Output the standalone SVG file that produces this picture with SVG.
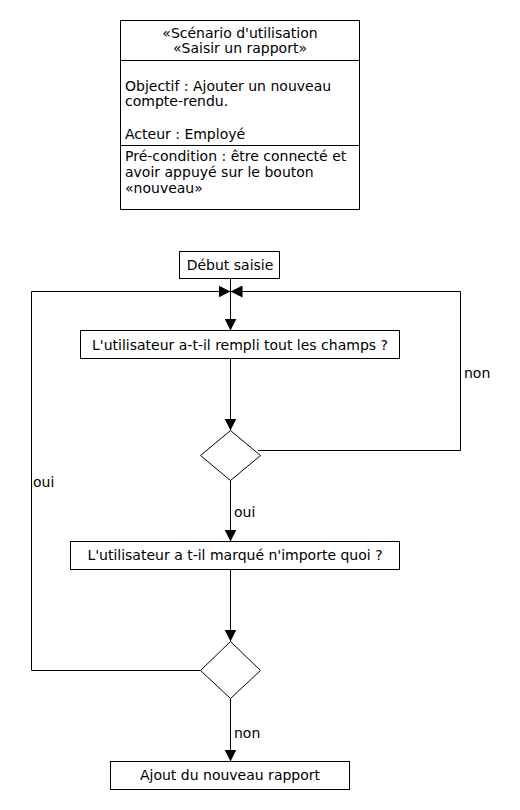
<svg xmlns="http://www.w3.org/2000/svg" width="520" height="810" viewBox="0 0 520 810">
<style>
  .box { fill: #fff; stroke: #000; stroke-width: 1; }
  .ln { fill: none; stroke: #000; stroke-width: 1; }
  text { font-family: "DejaVu Sans", sans-serif; font-size: 14px; fill: #000; }
  .c { text-anchor: middle; }
</style>
<defs>
  <marker id="arr" markerWidth="12" markerHeight="12" refX="12" refY="6" orient="auto" markerUnits="userSpaceOnUse">
    <path d="M0,0 L12,6 L0,12 Z" fill="#000"/>
  </marker>
</defs>
<rect width="520" height="810" fill="#fff"/>
<g id="scenario">
  <rect class="box" x="120.5" y="20.5" width="239" height="189"/>
  <line class="ln" x1="120.5" y1="60.5" x2="359.5" y2="60.5"/>
  <line class="ln" x1="120.5" y1="145.5" x2="359.5" y2="145.5"/>
  <text class="c" x="240" y="38">«Scénario d'utilisation</text>
  <text class="c" x="240" y="53">«Saisir un rapport»</text>
  <text x="125" y="91">Objectif : Ajouter un nouveau</text>
  <text x="125" y="106">compte-rendu.</text>
  <text x="125" y="139">Acteur : Employé</text>
  <text x="125" y="161">Pré-condition : être connecté et</text>
  <text x="125" y="177">avoir appuyé sur le bouton</text>
  <text x="125" y="193">«nouveau»</text>
</g>
<g id="debut">
  <rect class="box" x="179.5" y="251.5" width="100" height="27"/>
  <text class="c" x="230" y="270">Début saisie</text>
</g>
<g id="q1">
  <rect class="box" x="80.5" y="330.5" width="319" height="28"/>
  <text class="c" x="240" y="350">L'utilisateur a-t-il rempli tout les champs ?</text>
</g>
<g id="d1">
  <polygon class="box" points="230.5,430.5 260.5,455.5 230.5,480.5 200.5,455.5"/>
</g>
<g id="q2">
  <rect class="box" x="70.5" y="541.5" width="329" height="28"/>
  <text class="c" x="235" y="560">L'utilisateur a t-il marqué n'importe quoi ?</text>
</g>
<g id="d2">
  <polygon class="box" points="230.5,641.5 260.5,670.5 230.5,698.5 200.5,670.5"/>
</g>
<g id="fin">
  <rect class="box" x="110.5" y="761.5" width="239" height="28"/>
  <text class="c" x="230" y="780">Ajout du nouveau rapport</text>
</g>
<g id="connectors">
  <line class="ln" x1="230.5" y1="278.5" x2="230.5" y2="330.5" marker-end="url(#arr)"/>
  <line class="ln" x1="230.5" y1="358.5" x2="230.5" y2="430.5" marker-end="url(#arr)"/>
  <polyline class="ln" points="258,450.5 460.5,450.5 460.5,291.5 230.5,291.5" marker-end="url(#arr)"/>
  <polyline class="ln" points="200.5,670.5 31.5,670.5 31.5,291.5 230.5,291.5" marker-end="url(#arr)"/>
  <line class="ln" x1="230.5" y1="480.5" x2="230.5" y2="541.5" marker-end="url(#arr)"/>
  <line class="ln" x1="230.5" y1="569.5" x2="230.5" y2="641.5" marker-end="url(#arr)"/>
  <line class="ln" x1="230.5" y1="698.5" x2="230.5" y2="761.5" marker-end="url(#arr)"/>
  <text x="464" y="378">non</text>
  <text x="33" y="487">oui</text>
  <text x="234" y="517">oui</text>
  <text x="234" y="738">non</text>
</g>
</svg>
